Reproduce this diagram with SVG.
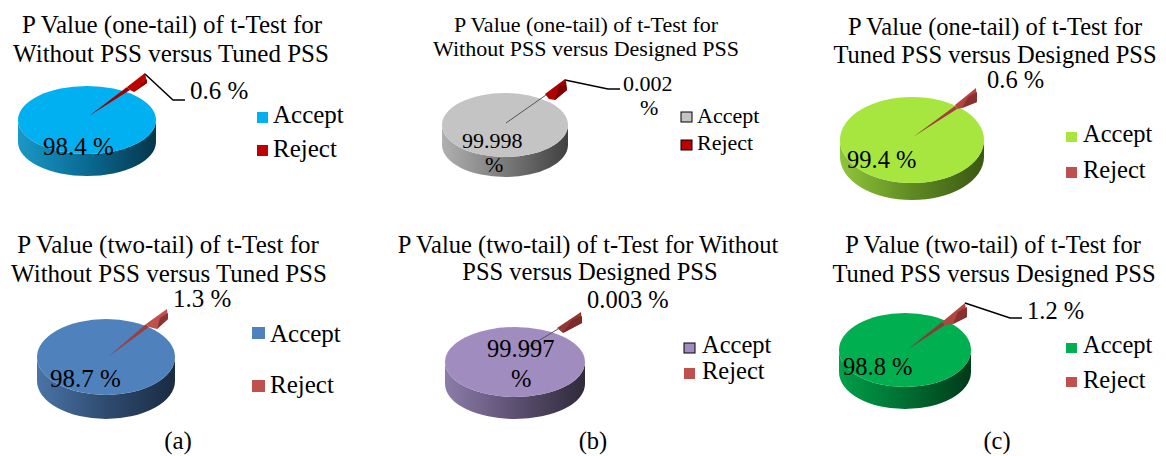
<svg xmlns="http://www.w3.org/2000/svg" width="1166" height="456" viewBox="0 0 1166 456">
<style>
text{font-family:"Liberation Serif","Times New Roman",serif;fill:#000}
.a{font-size:25px}
.b{font-size:22px}
.c{font-size:24.5px}
.lead{fill:none;stroke:#000;stroke-width:1.5}
.sq{stroke:none}
.sqb{stroke:#000;stroke-width:1}
</style>
<defs>
<linearGradient id="gA" x1="0" y1="0" x2="1" y2="0"><stop offset="0" stop-color="#1a98c8"/><stop offset="0.5" stop-color="#0a6a92"/><stop offset="1" stop-color="#05364c"/></linearGradient>
<linearGradient id="gB" x1="0" y1="0" x2="1" y2="0"><stop offset="0" stop-color="#b0b0b0"/><stop offset="0.5" stop-color="#7a7a7a"/><stop offset="1" stop-color="#404040"/></linearGradient>
<linearGradient id="gC" x1="0" y1="0" x2="1" y2="0"><stop offset="0" stop-color="#8fc63a"/><stop offset="0.5" stop-color="#5f8a22"/><stop offset="1" stop-color="#3a5812"/></linearGradient>
<linearGradient id="gD" x1="0" y1="0" x2="1" y2="0"><stop offset="0" stop-color="#4a74a6"/><stop offset="0.5" stop-color="#2e4b70"/><stop offset="1" stop-color="#1a2b42"/></linearGradient>
<linearGradient id="gE" x1="0" y1="0" x2="1" y2="0"><stop offset="0" stop-color="#8c7caa"/><stop offset="0.5" stop-color="#5c5072"/><stop offset="1" stop-color="#2f2a3a"/></linearGradient>
<linearGradient id="gF" x1="0" y1="0" x2="1" y2="0"><stop offset="0" stop-color="#00a048"/><stop offset="0.5" stop-color="#006e32"/><stop offset="1" stop-color="#003a1a"/></linearGradient>
</defs>

<g id="chart-a-one">
<text class="a" x="172" y="33" text-anchor="middle">P Value (one-tail) of t-Test for</text>
<text class="a" x="171" y="62" text-anchor="middle">Without PSS versus Tuned PSS</text>
<path d="M18,120 L18,142 A69,34 0 0 0 156,142 L156,120 A69,34 0 0 1 18,120 Z" fill="url(#gA)"/>
<ellipse cx="87" cy="120" rx="69" ry="34" fill="#00B0F0"/>
<polygon points="89,116 127,87 130,90" fill="#a00000"/>
<polygon points="127,87 145,73 147,83 134,92 130,90" fill="#C00000"/>
<polygon points="139,86 147,79 147,83 134,92" fill="#8a0000"/>
<text class="a" x="43" y="155">98.4 %</text>
<text class="a" x="190" y="99">0.6 %</text>
<rect class="sq" x="257" y="112" width="11" height="11" fill="#00B0F0"/>
<text class="a" x="273" y="123">Accept</text>
<rect class="sq" x="257" y="145" width="11" height="11" fill="#C00000"/>
<text class="a" x="273" y="157">Reject</text>
</g>

<g id="chart-b-one">
<text class="b" x="586" y="32" text-anchor="middle">P Value (one-tail) of t-Test for</text>
<text class="b" x="586" y="56" text-anchor="middle">Without PSS versus Designed PSS</text>
<path d="M442,125 L442,145 A63,32 0 0 0 568,145 L568,125 A63,32 0 0 1 442,125 Z" fill="url(#gB)"/>
<ellipse cx="505" cy="125" rx="63" ry="32" fill="#C4C4C4"/>
<line x1="506" y1="123" x2="546" y2="95" stroke="#555" stroke-width="1"/>
<polygon points="545,94 565,79 567,90 555,100 549,99" fill="#B00000"/>
<polygon points="559,86 566,81 567,90 555,100" fill="#800000"/>
<text class="b" x="462" y="148">99.998</text>
<text class="b" x="485" y="172">%</text>
<text class="b" x="623" y="91">0.002</text>
<text class="b" x="640" y="115">%</text>
<rect class="sqb" x="681" y="112" width="11" height="10" fill="#C4C4C4"/>
<text class="b" x="697" y="123">Accept</text>
<rect class="sqb" x="681" y="140" width="11" height="10" fill="#C00000"/>
<text class="b" x="697" y="150">Reject</text>
</g>

<g id="chart-c-one">
<text class="c" x="995" y="35" text-anchor="middle">P Value (one-tail) of t-Test for</text>
<text class="c" x="995" y="63" text-anchor="middle">Tuned PSS versus Designed PSS</text>
<path d="M840,140 L840,157 A72,43 0 0 0 984,157 L984,140 A72,43 0 0 1 840,140 Z" fill="url(#gC)"/>
<ellipse cx="912" cy="140" rx="72" ry="43" fill="#A6E63E"/>
<polygon points="913,137 955,106 957,109" fill="#a04040"/>
<polygon points="955,105 976,88 977,102 962,108 957,109" fill="#B0463F"/>
<polygon points="968,97 977,92 977,102 962,108" fill="#8a3030"/>
<text class="c" x="847" y="168">99.4 %</text>
<text class="c" x="987" y="88">0.6 %</text>
<rect class="sq" x="1066" y="132" width="11" height="10" fill="#A6E63E"/>
<text class="c" x="1083" y="142">Accept</text>
<rect class="sq" x="1066" y="167" width="11" height="11" fill="#C0504D"/>
<text class="c" x="1083" y="178">Reject</text>
</g>

<g id="chart-a-two">
<text class="a" x="168" y="253" text-anchor="middle">P Value (two-tail) of t-Test for</text>
<text class="a" x="169" y="282" text-anchor="middle">Without PSS versus Tuned PSS</text>
<path d="M37,357 L37,381 A69,38 0 0 0 175,381 L175,357 A69,38 0 0 1 37,357 Z" fill="url(#gD)"/>
<ellipse cx="106" cy="357" rx="69" ry="38" fill="#4F81BD"/>
<polygon points="108,357 146,324 149,327" fill="#9a4040"/>
<polygon points="146,324 167,309 168,319 157,329 149,327" fill="#C0504D"/>
<polygon points="160,318 168,313 168,319 157,329" fill="#8c3432"/>
<text class="a" x="50" y="387">98.7 %</text>
<text class="a" x="173" y="307">1.3 %</text>
<rect class="sq" x="252" y="327" width="13" height="12" fill="#4F81BD"/>
<text class="a" x="270" y="342">Accept</text>
<rect class="sq" x="252" y="380" width="13" height="12" fill="#C0504D"/>
<text class="a" x="270" y="393">Reject</text>
<text class="a" x="178" y="449" text-anchor="middle">(a)</text>
</g>

<g id="chart-b-two">
<text class="c" x="588" y="253" text-anchor="middle">P Value (two-tail) of t-Test for Without</text>
<text class="c" x="590" y="280" text-anchor="middle">PSS versus Designed PSS</text>
<path d="M445,362 L445,384 A70,35 0 0 0 585,384 L585,362 A70,35 0 0 1 445,362 Z" fill="url(#gE)"/>
<ellipse cx="515" cy="362" rx="70" ry="35" fill="#A08CBF"/>
<line x1="520" y1="352" x2="558" y2="329" stroke="#555" stroke-width="1"/>
<polygon points="557,328 581,312 582,323 563,333" fill="#943634"/>
<polygon points="572,320 582,316 582,323 563,333" fill="#7a2a28"/>
<text class="c" x="487" y="357">99.997</text>
<text class="c" x="511" y="387">%</text>
<text class="c" x="587" y="308">0.003 %</text>
<rect class="sqb" x="684" y="343" width="11" height="10" fill="#A08CBF"/>
<text class="c" x="702" y="353">Accept</text>
<rect class="sq" x="684" y="368" width="11" height="11" fill="#C0504D"/>
<text class="c" x="702" y="379">Reject</text>
<text class="c" x="593" y="449" text-anchor="middle">(b)</text>
</g>

<g id="chart-c-two">
<text class="c" x="993" y="253" text-anchor="middle">P Value (two-tail) of t-Test for</text>
<text class="c" x="994" y="282" text-anchor="middle">Tuned PSS versus Designed PSS</text>
<path d="M839,350 L839,372 A66,37 0 0 0 971,372 L971,350 A66,37 0 0 1 839,350 Z" fill="url(#gF)"/>
<ellipse cx="905" cy="350" rx="66" ry="37" fill="#00B050"/>
<polygon points="907,350 942,322 945,325" fill="#8a3a38"/>
<polygon points="942,322 965,303 967,317 953,324 945,325" fill="#B0463F"/>
<polygon points="958,312 967,307 967,317 953,324" fill="#8a3030"/>
<text class="c" x="843" y="375">98.8 %</text>
<text class="c" x="1027" y="319">1.2 %</text>
<rect class="sq" x="1066" y="343" width="11" height="10" fill="#00B050"/>
<text class="c" x="1083" y="353">Accept</text>
<rect class="sq" x="1066" y="377" width="11" height="10" fill="#C0504D"/>
<text class="c" x="1083" y="388">Reject</text>
<text class="c" x="997" y="449" text-anchor="middle">(c)</text>
</g>

<g id="connectors">
<polyline class="lead" points="145,74 173,100 185,100"/>
<polyline class="lead" points="565,80 608,89 620,89"/>
<polyline class="lead" points="965,303 1010,318 1022,318"/>
</g>
</svg>
